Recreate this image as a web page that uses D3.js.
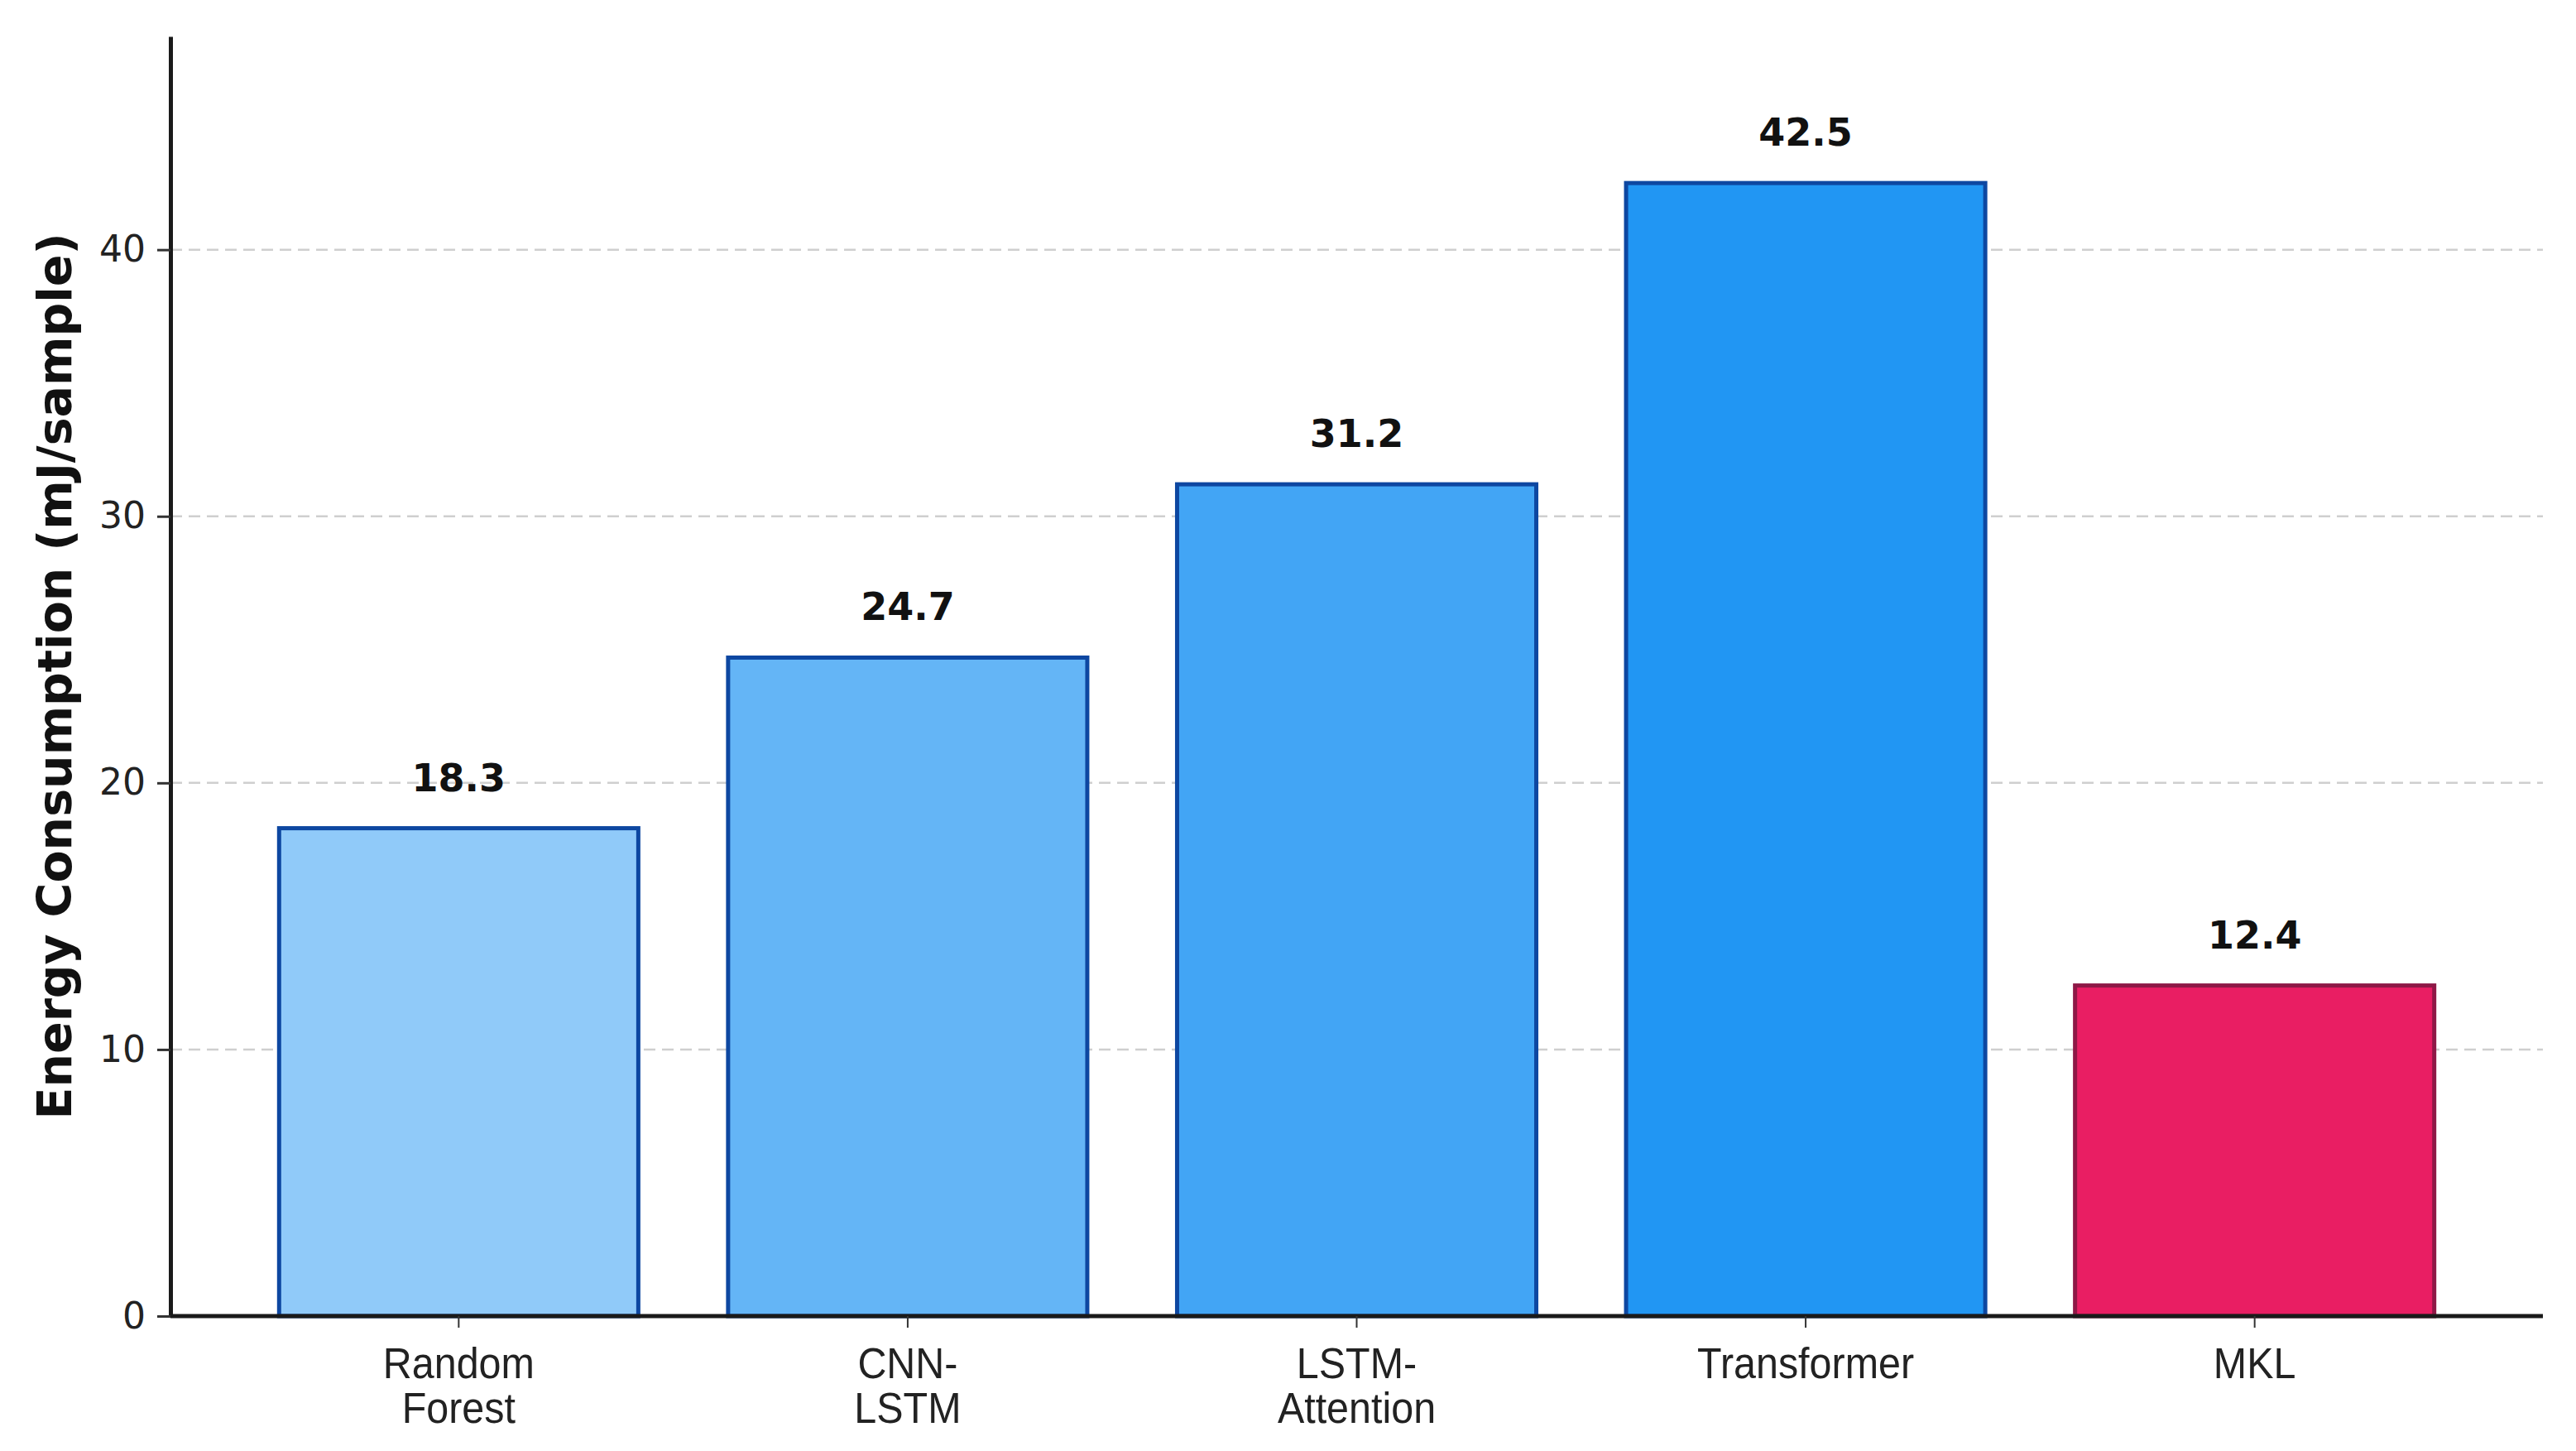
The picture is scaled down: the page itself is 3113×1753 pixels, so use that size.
<!DOCTYPE html>
<html>
<head>
<meta charset="utf-8">
<script src="https://cdn.jsdelivr.net/npm/d3@7"></script>
<style>
    html, body { margin: 0; padding: 0; background: #fff; }
    svg { display: block; font-family: "DejaVu Sans", sans-serif; }
</style>
</head>
<body>
<div id="grafico"></div>
<script>
// Datos
const categorias = ["Random Forest", "CNN-LSTM", "LSTM-Attention", "Transformer", "MKL"];
const etiquetas = [["Random", "Forest"], ["CNN-", "LSTM"], ["LSTM-", "Attention"], ["Transformer"], ["MKL"]];
const energia = [18.3, 24.7, 31.2, 42.5, 12.4];
const colores = ["#90CAF9", "#64B5F6", "#42A5F5", "#2196F3", "#E91E63"];
const bordes = ["#0D47A1", "#0D47A1", "#0D47A1", "#0D47A1", "#8E1846"];
const yTicks = [0, 10, 20, 30, 40];

const width = 3113, height = 1753;
const margin = { top: 44, right: 40, bottom: 163, left: 206 };

const svg = d3.select("#grafico").append("svg")
    .attr("width", width)
    .attr("height", height);

const xScale = d3.scaleBand()
    .domain(categorias)
    .range([margin.left, width - margin.right])
    .paddingInner(0.2)
    .paddingOuter(0.242);

const yScale = d3.scaleLinear()
    .domain([0, 48])
    .range([height - margin.bottom, margin.top]);

// Rejilla
svg.append("g")
    .selectAll("line")
    .data(yTicks.filter(d => d > 0))
    .enter()
    .append("line")
    .attr("x1", margin.left)
    .attr("x2", width - margin.right)
    .attr("y1", d => yScale(d))
    .attr("y2", d => yScale(d))
    .attr("stroke", "#cfcfcf")
    .attr("stroke-width", 2.5)
    .attr("stroke-dasharray", "14,8");

// Barras
svg.selectAll(".bar")
    .data(energia)
    .enter()
    .append("rect")
    .attr("class", "bar")
    .attr("x", (d, i) => xScale(categorias[i]))
    .attr("y", d => yScale(d))
    .attr("width", xScale.bandwidth())
    .attr("height", d => yScale(0) - yScale(d))
    .attr("fill", (d, i) => colores[i])
    .attr("stroke", (d, i) => bordes[i])
    .attr("stroke-width", 5);

// Valores sobre las barras
svg.selectAll(".valor")
    .data(energia)
    .enter()
    .append("text")
    .attr("class", "valor")
    .attr("x", (d, i) => xScale(categorias[i]) + xScale.bandwidth() / 2)
    .attr("y", d => yScale(d) - 45)
    .attr("text-anchor", "middle")
    .attr("font-size", 46)
    .attr("font-weight", "bold")
    .attr("fill", "#111")
    .text(d => d.toFixed(1));

// Eje X
const ejeX = svg.append("g")
    .attr("transform", `translate(0,${yScale(0)})`)
    .call(d3.axisBottom(xScale).tickSize(14).tickSizeOuter(0).tickFormat(""));
ejeX.select(".domain")
    .attr("d", `M${margin.left},0H${width - margin.right}`)
    .attr("stroke", "#1a1a1a")
    .attr("stroke-width", 5);
ejeX.selectAll(".tick line").attr("stroke", "#333").attr("stroke-width", 2);
ejeX.selectAll(".tick").each(function (d, i) {
    const t = d3.select(this).append("text")
        .attr("fill", "#222")
        .attr("font-size", 51)
        .attr("text-anchor", "middle")
        .attr("transform", "scale(0.95,1)");
    etiquetas[i].forEach((linea, j) => {
        t.append("tspan")
            .attr("x", 0)
            .attr("y", 75 + j * 54)
            .text(linea);
    });
});

// Eje Y
const ejeY = svg.append("g")
    .attr("transform", `translate(${margin.left},0)`)
    .call(d3.axisLeft(yScale).tickValues(yTicks).tickSize(16).tickSizeOuter(0).tickPadding(14));
ejeY.select(".domain")
    .attr("stroke", "#1a1a1a")
    .attr("stroke-width", 5);
ejeY.selectAll(".tick line").attr("stroke", "#333").attr("stroke-width", 3);
ejeY.selectAll(".tick text")
    .attr("font-size", 44)
    .attr("fill", "#222")
    .attr("font-family", "DejaVu Sans");

// Título del eje Y
svg.append("text")
    .attr("transform", `translate(86,${(margin.top + yScale(0)) / 2}) rotate(-90)`)
    .attr("text-anchor", "middle")
    .attr("font-size", 57)
    .attr("font-weight", "bold")
    .attr("fill", "#111")
    .text("Energy Consumption (mJ/sample)");
</script>
</body>
</html>
